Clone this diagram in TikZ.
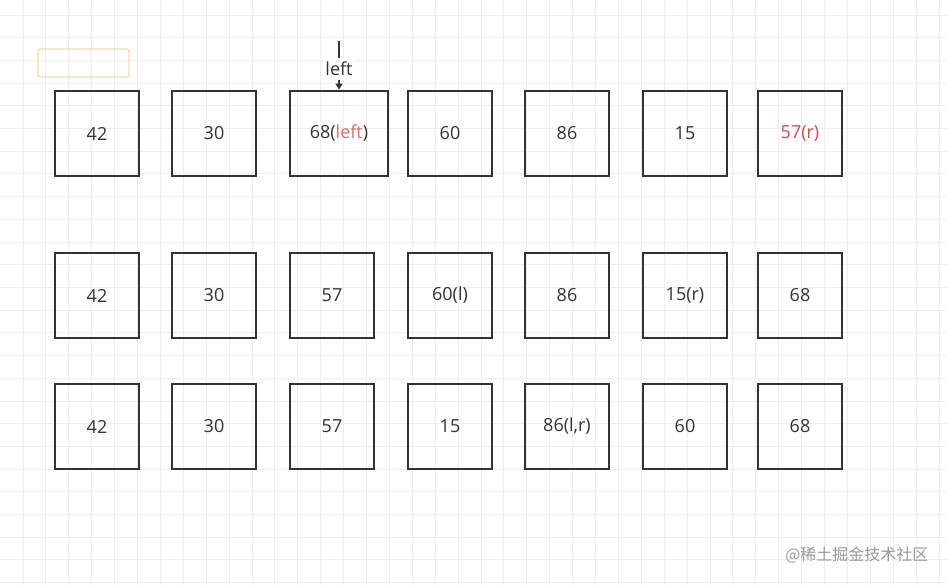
\documentclass[tikz,border=0pt]{standalone}
\usepackage{fontspec}
\setmainfont{Open Sans}
\newfontfamily\cjk{Noto Sans CJK SC}
\usetikzlibrary{arrows.meta}
\definecolor{boxline}{HTML}{333333}
\definecolor{textdark}{HTML}{333333}
\definecolor{gridline}{HTML}{EFEFEF}
\definecolor{memoline}{HTML}{F2DFA6}
\definecolor{pinkred}{HTML}{E06A6A}
\definecolor{markred}{HTML}{E04545}
\tikzset{
  cell/.style={draw=boxline, line width=2.8pt, minimum width=84pt, minimum height=85pt,
    inner sep=0pt, text=textdark, font=\fontsize{18}{21}\selectfont},
  grid line/.style={draw=gridline, line width=0.8pt},
  ptr/.style={draw=boxline, line width=2.6pt, -{Triangle[width=7pt,length=6pt]}},
}
\begin{document}
\begin{tikzpicture}[x=1pt,y=-1pt]
\useasboundingbox[fill=white] (0,0) rectangle (948,585);
% background grid
\foreach \i in {1,...,41} \draw[grid line] (22.9*\i,0) -- (22.9*\i,585);
\foreach \j in {0,...,25} \draw[grid line] (0,15+22.7*\j) -- (948,15+22.7*\j);
% empty note box
\node[draw=memoline, line width=1.2pt, rounded corners=2pt, minimum width=91pt, minimum height=28pt] (memo) at (83.5,63) {};
% first row
\node[cell] (a1) at (97,133.5) {42};
\node[cell] (a2) at (214,133.5) {30};
\node[cell, minimum width=98pt] (a3) at (339,133.5) {68(\textcolor{pinkred}{left})};
\node[cell] (a4) at (450,133.5) {60};
\node[cell] (a5) at (567,133.5) {86};
\node[cell] (a6) at (685,133.5) {15};
\node[cell, text=markred] (a7) at (800,133.5) {57(r)};
% pointer on the first row
\coordinate (ltop) at (339,41);
\draw[ptr] (ltop) -- (a3.north) node[pos=0.58, fill=white, inner xsep=1pt, inner ysep=4pt, text=textdark, font=\fontsize{18}{21}\selectfont] (lname) {left};
% second row
\node[cell] (b1) at (97,295.5) {42};
\node[cell] (b2) at (214,295.5) {30};
\node[cell] (b3) at (332,295.5) {57};
\node[cell] (b4) at (450,295.5) {60(l)};
\node[cell] (b5) at (567,295.5) {86};
\node[cell] (b6) at (685,295.5) {15(r)};
\node[cell] (b7) at (800,295.5) {68};
% third row
\node[cell] (c1) at (97,426.5) {42};
\node[cell] (c2) at (214,426.5) {30};
\node[cell] (c3) at (332,426.5) {57};
\node[cell] (c4) at (450,426.5) {15};
\node[cell] (c5) at (567,426.5) {86(l,r)};
\node[cell] (c6) at (685,426.5) {60};
\node[cell] (c7) at (800,426.5) {68};
% watermark
\node[anchor=east, text=black!40, font=\cjk\fontsize{16}{18}\selectfont] (mark) at (932,555) {@稀土掘金技术社区};
\end{tikzpicture}
\end{document}
